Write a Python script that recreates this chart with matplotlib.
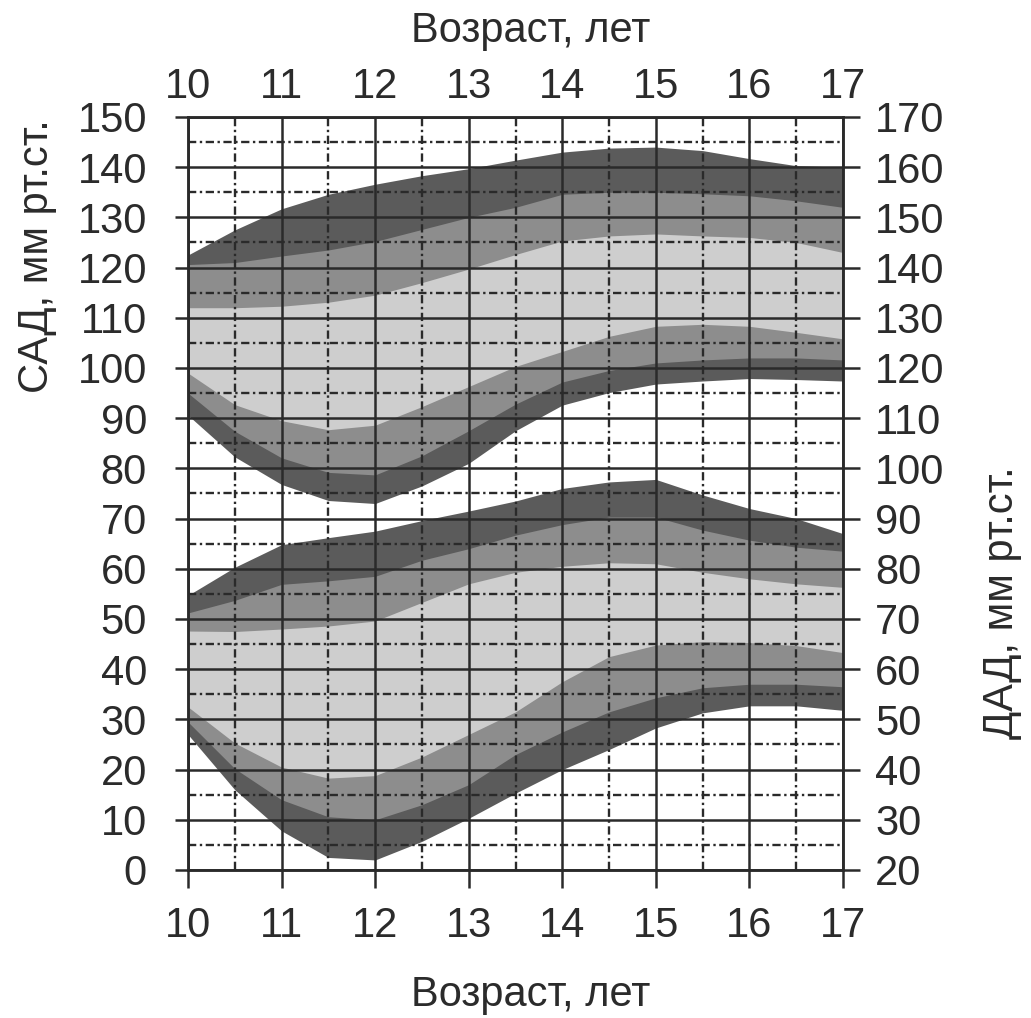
import matplotlib
matplotlib.use("Agg")
import matplotlib.pyplot as plt

plt.rcParams['font.family'] = ['Liberation Sans', 'DejaVu Sans']

# ages (years)
ages = [10, 10.5, 11, 11.5, 12, 12.5, 13, 13.5, 14, 14.5, 15, 15.5, 16, 16.5, 17]

# systolic pressure (left axis), band edges from top to bottom
sad_p95 = [122.5, 127.5, 131.7, 134.6, 136.6, 138.3, 139.7, 141.4, 143, 143.8, 144, 143.3, 141.7, 140.3, 140]
sad_p90 = [120.6, 121, 122.3, 123.5, 125.2, 127.6, 130, 132, 134.6, 135, 135, 134.7, 134.3, 133.3, 132]
sad_p75 = [112, 112, 112.3, 113.1, 114.5, 117, 119.7, 122.6, 125.3, 126.3, 126.7, 126.3, 126, 125, 123]
sad_p25 = [99, 92.7, 89.5, 87.7, 88.6, 92.3, 96.3, 100.3, 103.3, 106.3, 108.3, 108.7, 108.3, 107.1, 105.8]
sad_p10 = [95, 87.4, 82.1, 79.2, 78.7, 82.5, 87.5, 92.8, 97.2, 99.5, 101, 101.6, 102, 102, 101.6]
sad_p5 = [90.6, 82.3, 76.8, 73.6, 73, 76.5, 81, 87.5, 92.6, 95.1, 96.8, 97.4, 97.9, 97.7, 97.4]

# diastolic pressure (right axis)
dad_p95 = [74.7, 80.3, 84.8, 86.2, 87.5, 89.6, 91.5, 93.5, 96, 97.3, 97.8, 94.7, 92, 90, 87]
dad_p90 = [71.2, 73.7, 76.9, 77.6, 78.5, 81.7, 84, 86.7, 88.8, 90.3, 90.3, 87.7, 85.7, 84.3, 83.5]
dad_p75 = [67.6, 67.5, 68, 68.6, 69.6, 73.3, 77, 79.3, 80.5, 81.2, 81, 79.3, 78, 77, 76.3]
dad_p25 = [52.5, 45.3, 40.5, 38.3, 38.8, 42.5, 47, 51.5, 57.5, 62.5, 64.8, 65.5, 65.3, 64.7, 63.3]
dad_p10 = [49.5, 40.2, 34, 30.6, 30, 33, 37, 43, 47.5, 51.5, 54.3, 56.3, 57, 57, 56.5]
dad_p5 = [47, 36, 27.8, 22.5, 22, 25.7, 30.3, 35.3, 40, 44, 48.3, 51.3, 52.7, 52.7, 51.8]

x_ticks = [10, 11, 12, 13, 14, 15, 16, 17]
x_half = [10.5, 11.5, 12.5, 13.5, 14.5, 15.5, 16.5]
sad_ticks = list(range(0, 151, 10))
dad_ticks = list(range(20, 171, 10))
dad_half = list(range(25, 170, 10))

dark, mid, light = '#5b5b5b', '#8d8d8d', '#cecece'
ink = '#2a2a2a'
txt = '#2b2b2b'

fig = plt.figure(figsize=(10.31, 10.18), dpi=100)
ax = fig.add_axes([0.1823, 0.1454, 0.6354, 0.7397])
ax.set_xlim(10, 17)
ax.set_ylim(0, 150)
ax2 = ax.twinx()
ax2.set_ylim(20, 170)

ax.fill_between(ages, sad_p5, sad_p95, color=dark, lw=0)
ax.fill_between(ages, sad_p10, sad_p90, color=mid, lw=0)
ax.fill_between(ages, sad_p25, sad_p75, color=light, lw=0)

ax2.fill_between(ages, dad_p5, dad_p95, color=dark, lw=0, zorder=1)
ax2.fill_between(ages, dad_p10, dad_p90, color=mid, lw=0, zorder=1)
ax2.fill_between(ages, dad_p25, dad_p75, color=light, lw=0, zorder=1)

# grid on the top axes so it sits over both sets of bands
dashdot = (0, (3.5, 1.5, 1, 1.5))
for v in dad_ticks:
    ax2.axhline(v, color=ink, lw=1.8, zorder=3)
for v in dad_half:
    ax2.axhline(v, color=ink, lw=1.7, ls=dashdot, zorder=3)
for v in x_ticks:
    ax2.axvline(v, color=ink, lw=1.8, zorder=3)
for v in x_half:
    ax2.axvline(v, color=ink, lw=1.7, ls=dashdot, zorder=3)

for a in (ax, ax2):
    for s in a.spines.values():
        s.set_color(ink)
        s.set_linewidth(1.8)

fs = 30
ax.set_xticks(x_ticks)
ax.set_yticks(sad_ticks)
ax.tick_params(axis='y', direction='out', length=9.5, width=1.8, color=ink,
               pad=20, labelsize=fs, labelcolor=txt)
ax.tick_params(axis='x', direction='out', length=13, width=1.8, color=ink,
               pad=13, labelsize=fs, labelcolor=txt)
ax2.set_yticks(dad_ticks)
ax2.tick_params(axis='y', direction='out', length=12, width=1.8, color=ink,
                pad=11, labelsize=fs, labelcolor=txt)

top = ax.secondary_xaxis('top')
top.set_xticks(x_ticks)
top.tick_params(length=0, pad=7, labelsize=fs, labelcolor=txt)
top.spines['top'].set_visible(False)

fig.text(0.515, 0.023, 'Возраст, лет', ha='center', va='center', fontsize=fs, color=txt)
fig.text(0.515, 0.970, 'Возраст, лет', ha='center', va='center', fontsize=fs, color=txt)
fig.text(0.036, 0.748, 'САД, мм рт.ст.', rotation=90, ha='center', va='center',
         fontsize=fs, color=txt)
fig.text(0.972, 0.408, 'ДАД, мм рт.ст.', rotation=90, ha='center', va='center',
         fontsize=fs, color=txt)

fig.savefig('out.png', dpi=100)
